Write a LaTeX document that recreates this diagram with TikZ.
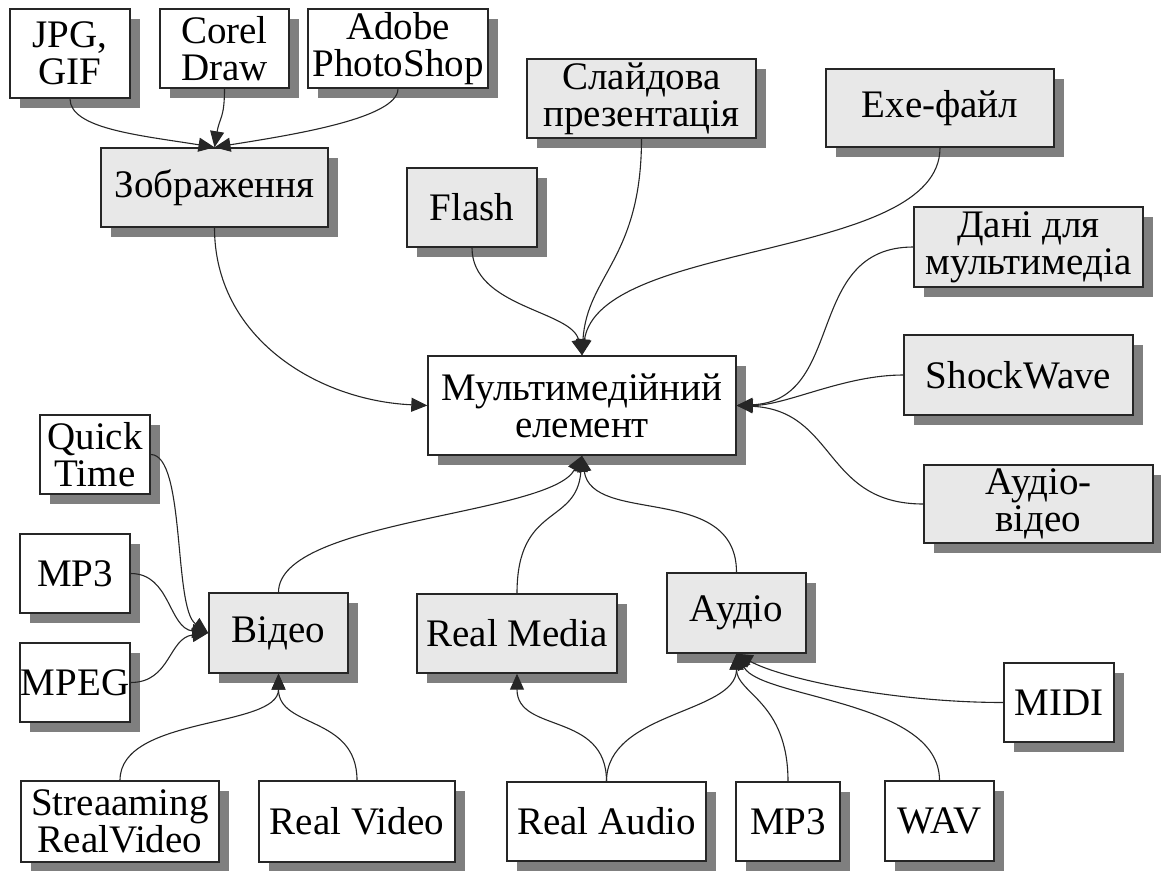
\documentclass[tikz,border=0pt]{standalone}
\usepackage{fontspec}
\setmainfont{Liberation Serif}
\usetikzlibrary{shadows,arrows.meta}
\definecolor{boxgray}{HTML}{E8E8E8}
\definecolor{shadegray}{HTML}{7F7F7F}

\begin{document}
\begin{tikzpicture}[x=1pt,y=-1pt,
	every node/.style={font=\fontsize{39}{37}\selectfont,align=center,inner sep=0pt},
	item/.style={draw=black!85,line width=1.4pt,fill=white,
		drop shadow={shadow xshift=10pt,shadow yshift=-10pt,fill=shadegray,opacity=1}},
	group/.style={item,fill=boxgray},
	link/.style={draw=black!85,line width=1.1pt,-{Triangle[length=16pt,width=14pt]}}]
		\useasboundingbox (0,0) rectangle (1161,870);
		% top left: images
		\node[item,minimum width=120pt,minimum height=89pt] (jpg) at (70,53.5) {JPG,\\GIF};
		\node[item,minimum width=129pt,minimum height=79pt] (corel) at (224.5,48.5) {Corel\\Draw};
		\node[item,minimum width=180pt,minimum height=79pt] (adobe) at (398,48.5) {Adobe\\PhotoShop};
		\node[group,minimum width=227pt,minimum height=79pt] (zobr) at (214.5,187.5) {Зображення};
		% top and right
		\node[group,minimum width=130pt,minimum height=79pt] (flash) at (472,207.5) {Flash};
		\node[group,minimum width=229pt,minimum height=79pt] (slide) at (641.5,98.5) {Слайдова\\презентація};
		\node[group,minimum width=228pt,minimum height=78pt] (exe) at (940,108) {Exe-файл};
		\node[group,minimum width=229pt,minimum height=80pt] (dani) at (1028.5,247) {Дані для\\мультимедіа};
		\node[group,minimum width=229pt,minimum height=80pt] (shock) at (1018.5,375) {ShockWave};
		\node[group,minimum width=229pt,minimum height=78pt] (avideo) at (1038.5,504) {Аудіо-\\відео};
		% centre
		\node[item,minimum width=308pt,minimum height=99pt] (main) at (582,405.5) {Мультимедійний\\елемент};
		% video
		\node[item,minimum width=110pt,minimum height=79pt] (quick) at (95,454.5) {Quick\\Time};
		\node[item,minimum width=110pt,minimum height=79pt] (mpthree) at (75,573.5) {MP3};
		\node[item,minimum width=110pt,minimum height=79pt] (mpeg) at (75,682.5) {MPEG};
		\node[group,minimum width=139pt,minimum height=80pt] (video) at (278.5,633) {Відео};
		\node[item,minimum width=198pt,minimum height=81pt] (stream) at (120,821.5) {Streaaming\\RealVideo};
		\node[item,minimum width=196pt,minimum height=81pt] (rvideo) at (357,821.5) {Real Video};
		% real media and audio
		\node[group,minimum width=200pt,minimum height=79pt] (rmedia) at (517,633.5) {Real Media};
		\node[group,minimum width=139pt,minimum height=80pt] (audio) at (736.5,613) {Аудіо};
		\node[item,minimum width=199pt,minimum height=79pt] (raudio) at (606.5,821.5) {Real Audio};
		\node[item,minimum width=104pt,minimum height=79pt] (mpthreeb) at (788,821.5) {MP3};
		\node[item,minimum width=109pt,minimum height=80pt] (wav) at (939.5,821) {WAV};
		\node[item,minimum width=110pt,minimum height=79pt] (midi) at (1059,702.5) {MIDI};
		% links
		\draw[link] (jpg.south) .. controls +(0,30) and +(-75,-12) .. (zobr.north);
		\draw[link] (corel.south) .. controls +(0,30) and +(5,-30) .. (zobr.north);
		\draw[link] (adobe.south) .. controls +(0,30) and +(75,-12) .. (zobr.north);
		\draw[link] (zobr.south) .. controls +(0,110) and +(-110,-5) .. (main.west);
		\draw[link] (flash.south) .. controls +(0,60) and +(-10,-45) .. (main.north);
		\draw[link] (slide.south) .. controls +(0,120) and +(5,-80) .. (main.north);
		\draw[link] (exe.south) .. controls +(0,113) and +(18,-116) .. (main.north);
		\draw[link] (dani.west) .. controls +(-110,0) and +(110,-5) .. (main.east);
		\draw[link] (shock.west) .. controls +(-60,0) and +(50,0) .. (main.east);
		\draw[link] (avideo.west) .. controls +(-100,0) and +(100,5) .. (main.east);
		\draw[link] (quick.east) .. controls +(35,0) and +(-35,-25) .. (video.west);
		\draw[link] (mpthree.east) .. controls +(40,0) and +(-40,-5) .. (video.west);
		\draw[link] (mpeg.east) .. controls +(40,0) and +(-40,5) .. (video.west);
		\draw[link] (video.north) .. controls +(0,-73) and +(-32,60) .. (main.south);
		\draw[link] (stream.north) .. controls +(0,-65) and +(0,55) .. (video.south);
		\draw[link] (rvideo.north) .. controls +(0,-65) and +(0,55) .. (video.south);
		\draw[link] (rmedia.north) .. controls +(0,-90) and +(-5,70) .. (main.south);
		\draw[link] (audio.north) .. controls +(0,-90) and +(10,70) .. (main.south);
		\draw[link] (raudio.north) .. controls +(0,-70) and +(0,60) .. (rmedia.south);
		\draw[link] (raudio.north) .. controls +(0,-70) and +(0,60) .. (audio.south);
		\draw[link] (mpthreeb.north) .. controls +(0,-80) and +(0,40) .. (audio.south);
		\draw[link] (wav.north) .. controls +(0,-80) and +(25,45) .. (audio.south);
		\draw[link] (midi.west) .. controls +(-110,0) and +(45,25) .. (audio.south);
\end{tikzpicture}
\end{document}
